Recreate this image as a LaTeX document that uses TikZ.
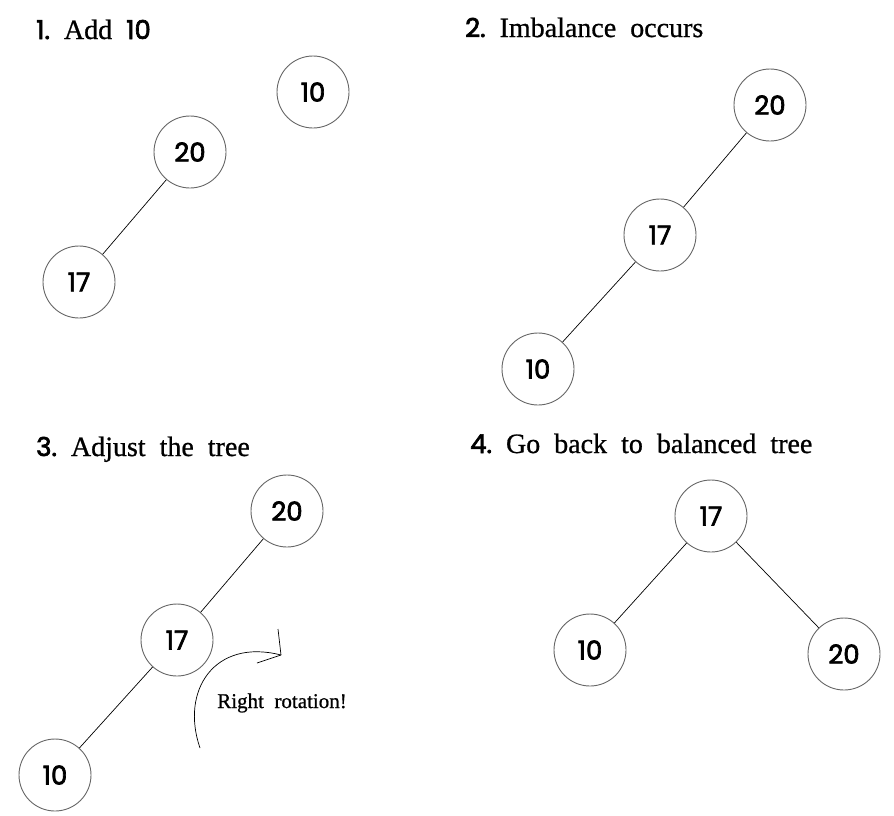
\documentclass[tikz,border=0pt]{standalone}
\usepackage{fontspec}
\setmainfont{Liberation Serif}[FakeBold=0.8]
\newfontfamily\numfont{Poppins}[FakeBold=2.6]
\begin{document}
\begin{tikzpicture}[x=1pt,y=-1pt,
  tnode/.style={circle,draw=black!60,line width=0.9pt,minimum size=72pt,inner sep=0pt,font=\numfont\fontsize{26}{26}\selectfont},
  edge/.style={draw=black,line width=0.7pt},
  title/.style={anchor=base west,inner sep=0pt,font=\fontsize{28}{28}\selectfont}]
\useasboundingbox (0,0) rectangle (894,815);
% panel 1
\node[title] (t1) at (36,39) {{\numfont\fontsize{26}{26}\selectfont 1.}\ \ Add\ \ {\numfont\fontsize{26}{26}\selectfont 10}};
\node[tnode] (a10) at (313,92) {10};
\node[tnode] (a20) at (190,152) {20};
\node[tnode] (a17) at (79,282) {17};
\draw[edge] (a20) -- (a17);
% panel 2
\node[title] (t2) at (465,37) {{\numfont\fontsize{26}{26}\selectfont 2.}\ \ Imbalance\ \ occurs};
\node[tnode] (b20) at (770,105) {20};
\node[tnode] (b17) at (660,235) {17};
\node[tnode] (b10) at (538,369) {10};
\draw[edge] (b20) -- (b17);
\draw[edge] (b17) -- (b10);
% panel 3
\node[title] (t3) at (36,456) {{\numfont\fontsize{26}{26}\selectfont 3.}\ \ Adjust\ \ the\ \ tree};
\node[tnode] (c20) at (287,511) {20};
\node[tnode] (c17) at (177,640) {17};
\node[tnode] (c10) at (55,775) {10};
\draw[edge] (c20) -- (c17);
\draw[edge] (c17) -- (c10);
\node[inner sep=0pt,font=\fontsize{21}{21}\selectfont] (rot) at (282,703) {Right\ \ rotation!};
\coordinate (arcs) at (200,748);
\coordinate (tip) at (281,655);
\draw[line width=0.7pt] (arcs) .. controls (180,690) and (215,638) .. (tip);
\draw[line width=0.7pt] (tip) -- ++(-3,-26);
\draw[line width=0.7pt] (tip) -- ++(-24,8);
% panel 4
\node[title] (t4) at (470,453) {{\numfont\fontsize{26}{26}\selectfont 4.}\ \ Go\ \ back\ \ to\ \ balanced\ \ tree};
\node[tnode] (d17) at (711,516) {17};
\node[tnode] (d10) at (590,650) {10};
\node[tnode] (d20) at (844,654) {20};
\draw[edge] (d17) -- (d10);
\draw[edge] (d17) -- (d20);
\end{tikzpicture}
\end{document}
